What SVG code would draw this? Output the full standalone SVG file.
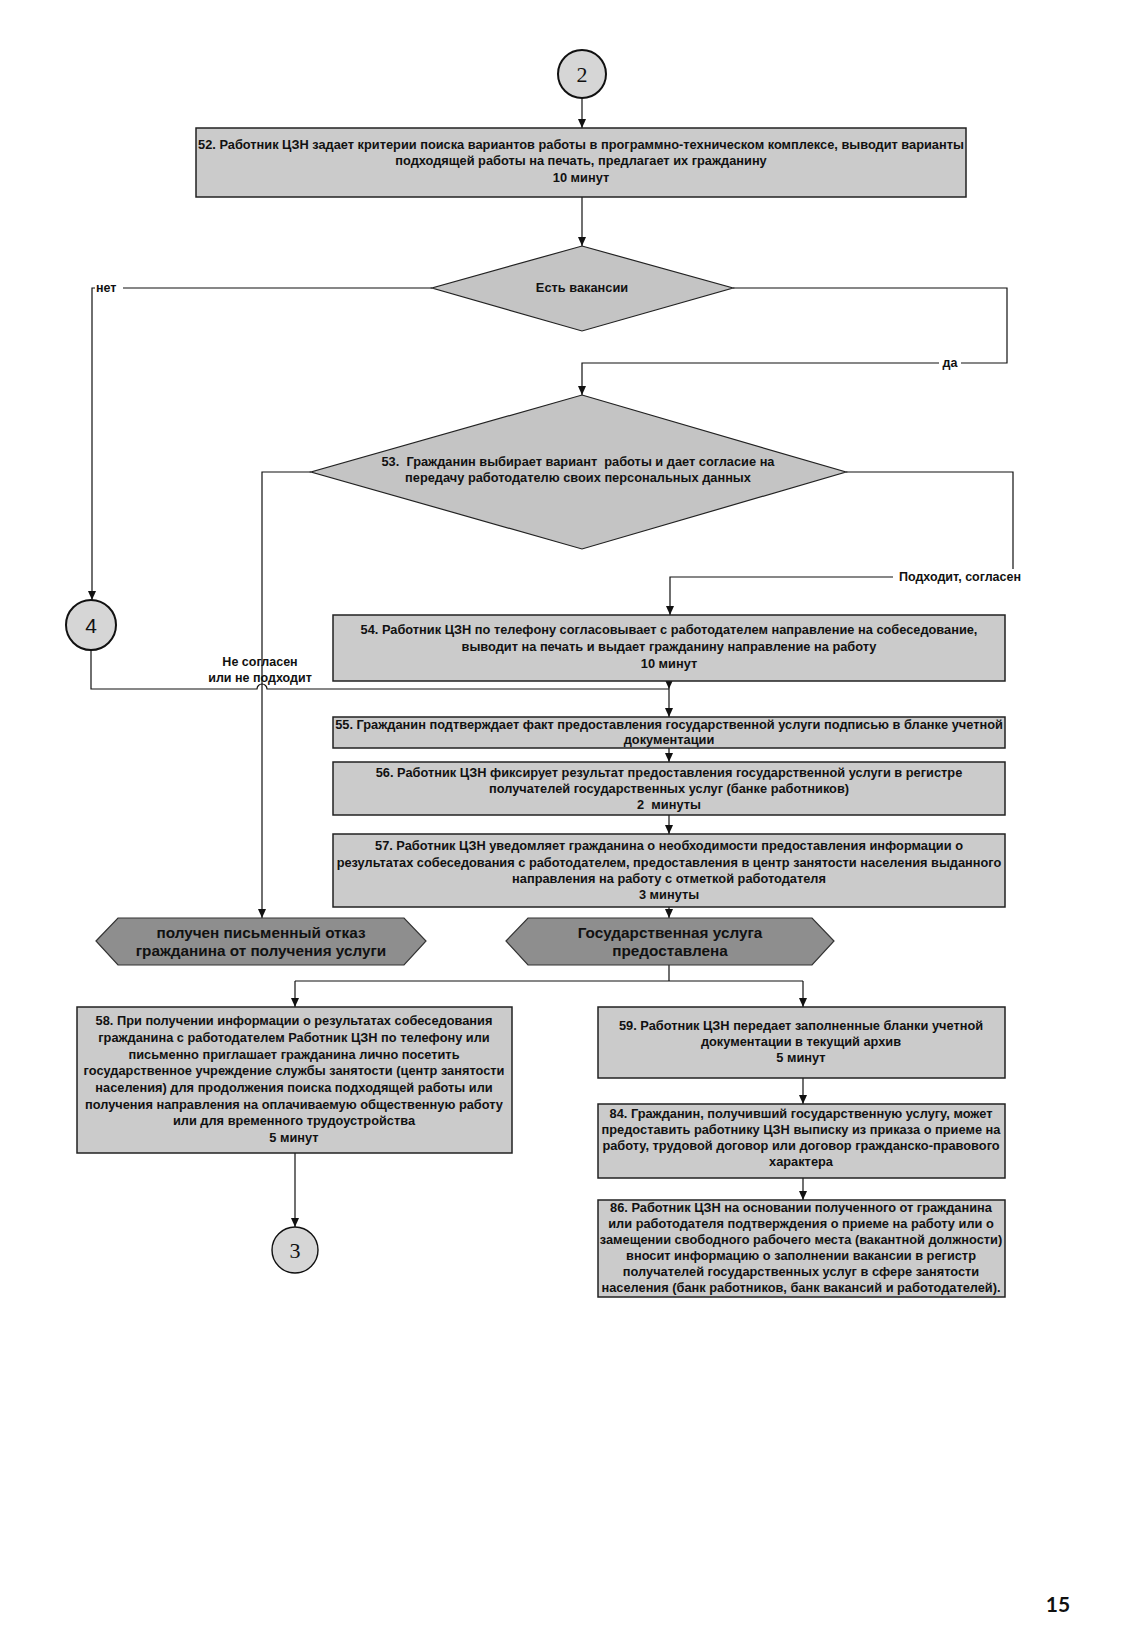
<svg xmlns="http://www.w3.org/2000/svg" width="1125" height="1643" viewBox="0 0 1125 1643">
<defs>
<marker id="arr" markerUnits="userSpaceOnUse" markerWidth="9" markerHeight="8" refX="9" refY="4" orient="auto">
<path d="M0,0 L9,4 L0,8 z" fill="#111"/>
</marker>
</defs>
<style>
.box{fill:#cbcbcb;stroke:#222;stroke-width:1.5}
.dia{fill:#c4c4c4;stroke:#222;stroke-width:1.2}
.hex{fill:#8e8e8e;stroke:#333;stroke-width:1.2}
.circ{fill:#d6d6d6;stroke:#111;stroke-width:2}
.t{font-family:"Liberation Sans",Arial,sans-serif;font-size:12.8px;font-weight:bold;text-anchor:middle;fill:#111;white-space:pre}
.ht{font-family:"Liberation Sans",Arial,sans-serif;font-size:15.3px;font-weight:bold;text-anchor:middle;fill:#111}
.ct{font-family:"Liberation Serif","Times New Roman",serif;font-size:22px;text-anchor:middle;fill:#111}
.lbl{font-family:"Liberation Sans",Arial,sans-serif;font-size:12.5px;font-weight:bold;fill:#111}
.conn{fill:none;stroke:#111;stroke-width:1.2}
.a{marker-end:url(#arr)}
.bg{fill:#fff}
</style>
<rect x="0" y="0" width="1125" height="1643" fill="#fff"/>

<g id="connectors">
<path class="conn a" d="M582,98 V128"/>
<path class="conn a" d="M582,197 V246"/>
<path class="conn a" d="M432,288 H92 V600"/>
<path class="conn a" d="M733,288 H1007 V363 H582 V395"/>
<path class="conn a" d="M311,472 H262 V918"/>
<path class="conn a" d="M846,472 H1013 V577 H670 V615"/>
<path class="conn a" d="M669,681 V689"/>
<path class="conn" d="M91,650 V689 H257 A5,5 0 0 1 267,689 H669"/>
<path class="conn a" d="M669,689 V717"/>
<path class="conn a" d="M669,748 V762"/>
<path class="conn a" d="M669,815 V834"/>
<path class="conn a" d="M669,907 V918"/>
<path class="conn" d="M669,965 V981 M295,981 H803"/>
<path class="conn a" d="M295,981 V1007"/>
<path class="conn a" d="M803,981 V1007"/>
<path class="conn a" d="M295,1153 V1227"/>
<path class="conn a" d="M803,1078 V1104"/>
<path class="conn a" d="M803,1178 V1200"/>
<rect class="bg" x="95" y="280" width="28" height="14"/>
<text class="lbl" x="96" y="292">нет</text>
<rect class="bg" x="939" y="355" width="22" height="14"/>
<text class="lbl" x="950" y="367" text-anchor="middle">да</text>
<rect class="bg" x="893" y="569" width="130" height="14"/>
<text class="lbl" x="1021" y="581" text-anchor="end">Подходит, согласен</text>
<text class="lbl" x="260" y="666" text-anchor="middle">Не согласен</text>
<text class="lbl" x="260" y="682" text-anchor="middle">или не подходит</text>
</g>

<g id="c2">
<circle class="circ" cx="582" cy="74" r="24"/>
<text class="ct" x="582" y="82">2</text>
</g>

<g id="n52">
<rect class="box" x="196" y="128" width="770" height="69"/>
<text class="t" x="581" y="149">52. Работник ЦЗН задает критерии поиска вариантов работы в программно-техническом комплексе, выводит варианты</text>
<text class="t" x="581" y="165">подходящей работы на печать, предлагает их гражданину</text>
<text class="t" x="581" y="182">10 минут</text>
</g>

<g id="d1">
<polygon class="dia" points="582,246 733,288 582,331 432,288"/>
<text class="t" x="582" y="292">Есть вакансии</text>
</g>

<g id="d53">
<polygon class="dia" points="582,395 846,472 582,549 311,472"/>
<text class="t" x="578" y="466">53.  Гражданин выбирает вариант  работы и дает согласие на</text>
<text class="t" x="578" y="482">передачу работодателю своих персональных данных</text>
</g>

<g id="c4">
<circle class="circ" cx="91" cy="625" r="25"/>
<text class="t" x="91" y="633" style="font-size:21px;font-weight:normal">4</text>
</g>

<g id="n54">
<rect class="box" x="333" y="615" width="672" height="66"/>
<text class="t" x="669" y="634">54. Работник ЦЗН по телефону согласовывает с работодателем направление на собеседование,</text>
<text class="t" x="669" y="651">выводит на печать и выдает гражданину направление на работу</text>
<text class="t" x="669" y="668">10 минут</text>
</g>

<g id="n55">
<rect class="box" x="333" y="717" width="672" height="31"/>
<text class="t" x="669" y="729">55. Гражданин подтверждает факт предоставления государственной услуги подписью в бланке учетной</text>
<text class="t" x="669" y="744">документации</text>
</g>

<g id="n56">
<rect class="box" x="333" y="762" width="672" height="53"/>
<text class="t" x="669" y="777">56. Работник ЦЗН фиксирует результат предоставления государственной услуги в регистре</text>
<text class="t" x="669" y="793">получателей государственных услуг (банке работников)</text>
<text class="t" x="669" y="809">2  минуты</text>
</g>

<g id="n57">
<rect class="box" x="333" y="834" width="672" height="73"/>
<text class="t" x="669" y="850">57. Работник ЦЗН уведомляет гражданина о необходимости предоставления информации о</text>
<text class="t" x="669" y="867">результатах собеседования с работодателем, предоставления в центр занятости населения выданного</text>
<text class="t" x="669" y="883">направления на работу с отметкой работодателя</text>
<text class="t" x="669" y="899">3 минуты</text>
</g>

<g id="h1">
<polygon class="hex" points="96,941 118,918 404,918 426,941 404,965 118,965"/>
<text class="ht" x="261" y="938">получен письменный отказ</text>
<text class="ht" x="261" y="956">гражданина от получения услуги</text>
</g>

<g id="h2">
<polygon class="hex" points="506,941 528,918 812,918 834,941 812,965 528,965"/>
<text class="ht" x="670" y="938">Государственная услуга</text>
<text class="ht" x="670" y="956">предоставлена</text>
</g>

<g id="n58">
<rect class="box" x="77" y="1007" width="435" height="146"/>
<text class="t" x="294" y="1025">58. При получении информации о результатах собеседования</text>
<text class="t" x="294" y="1042">гражданина с работодателем Работник ЦЗН по телефону или</text>
<text class="t" x="294" y="1059">письменно приглашает гражданина лично посетить</text>
<text class="t" x="294" y="1075">государственное учреждение службы занятости (центр занятости</text>
<text class="t" x="294" y="1092">населения) для продолжения поиска подходящей работы или</text>
<text class="t" x="294" y="1109">получения направления на оплачиваемую общественную работу</text>
<text class="t" x="294" y="1125">или для временного трудоустройства</text>
<text class="t" x="294" y="1142">5 минут</text>
</g>

<g id="c3">
<circle class="circ" cx="295" cy="1250" r="23" style="stroke-width:1.4"/>
<text class="ct" x="295" y="1258">3</text>
</g>

<g id="n59">
<rect class="box" x="598" y="1007" width="407" height="71"/>
<text class="t" x="801" y="1030">59. Работник ЦЗН передает заполненные бланки учетной</text>
<text class="t" x="801" y="1046">документации в текущий архив</text>
<text class="t" x="801" y="1062">5 минут</text>
</g>

<g id="n84">
<rect class="box" x="598" y="1104" width="407" height="74"/>
<text class="t" x="801" y="1118">84. Гражданин, получивший государственную услугу, может</text>
<text class="t" x="801" y="1134">предоставить работнику ЦЗН выписку из приказа о приеме на</text>
<text class="t" x="801" y="1150">работу, трудовой договор или договор гражданско-правового</text>
<text class="t" x="801" y="1166">характера</text>
</g>

<g id="n86">
<rect class="box" x="598" y="1200" width="407" height="97"/>
<text class="t" x="801" y="1212">86. Работник ЦЗН на основании полученного от гражданина</text>
<text class="t" x="801" y="1228">или работодателя подтверждения о приеме на работу или о</text>
<text class="t" x="801" y="1244">замещении свободного рабочего места (вакантной должности)</text>
<text class="t" x="801" y="1260">вносит информацию о заполнении вакансии в регистр</text>
<text class="t" x="801" y="1276">получателей государственных услуг в сфере занятости</text>
<text class="t" x="801" y="1292">населения (банк работников, банк вакансий и работодателей).</text>
</g>

<text x="1058" y="1612" style="font-family:Lato,'Open Sans',sans-serif;font-size:21px;font-weight:bold;text-anchor:middle;fill:#111">15</text>
</svg>
